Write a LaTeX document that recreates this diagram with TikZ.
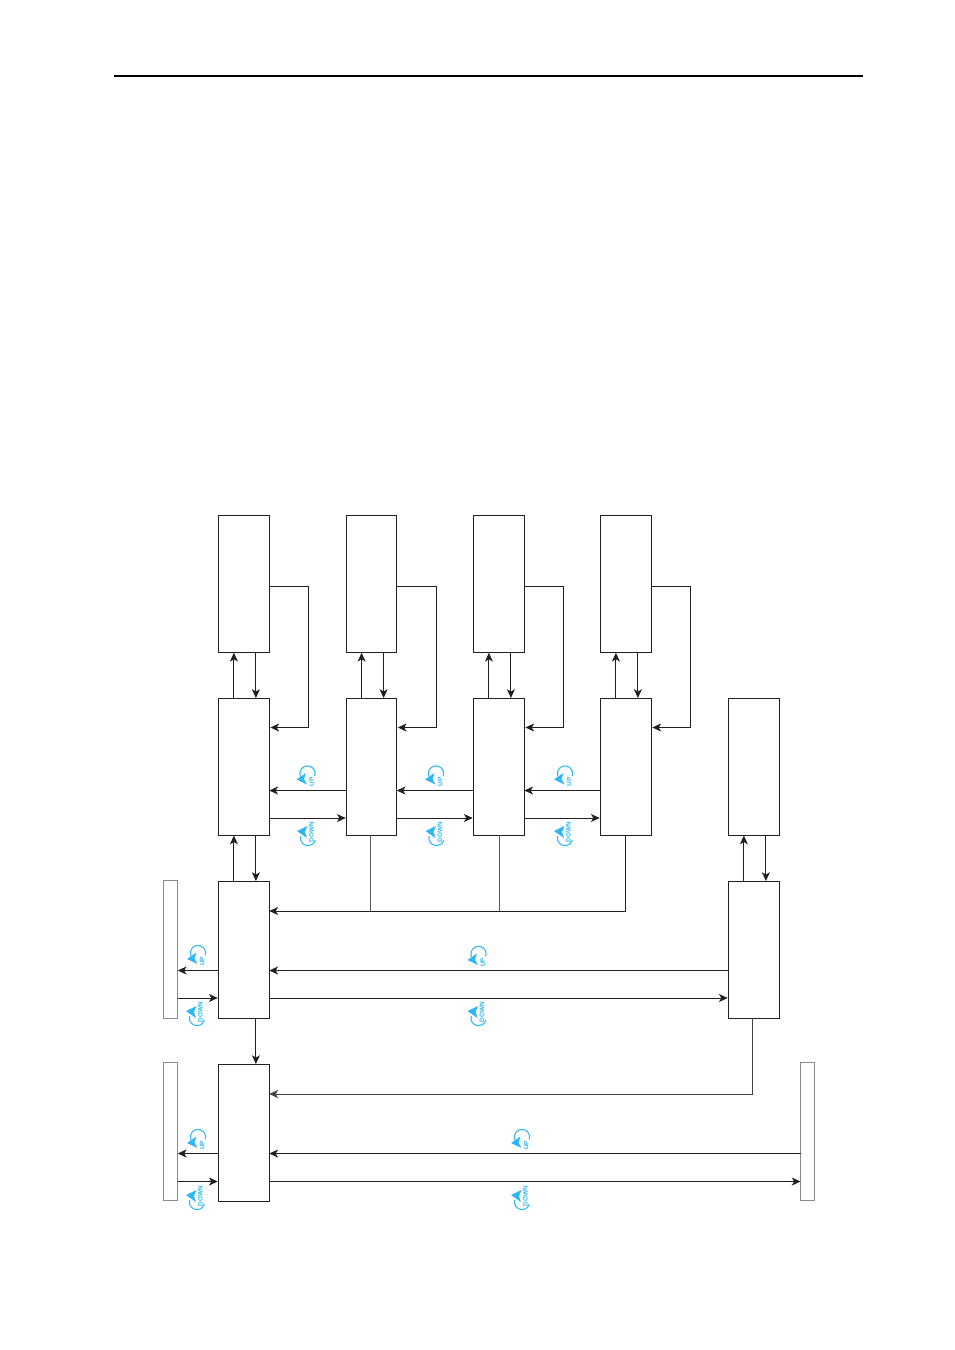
\documentclass[tikz,border=0pt]{standalone}
\usepackage{fontspec}
\setmainfont{Liberation Sans}
\usetikzlibrary{arrows.meta}
\definecolor{ink}{HTML}{231F20}
\definecolor{sky}{HTML}{2CB8F6}
\definecolor{barline}{HTML}{8A8A8A}
\tikzset{
  x=0.75pt,y=-0.75pt,
  box/.style={draw=ink,line width=0.7pt,fill=white,inner sep=0pt,outer sep=0pt,minimum width=38.25pt,minimum height=102.8pt},
  narrowbox/.style={box,minimum width=37.8pt},
  bar/.style={draw=barline,line width=0.7pt,fill=white,inner sep=0pt,outer sep=0pt,minimum width=10.5pt,minimum height=103.8pt},
  arr/.style={draw=ink,line width=0.7pt,-{Stealth[length=6.6pt,width=6pt,inset=1.8pt]},shorten >=0.2pt},
  bus/.style={draw=ink!75,line width=0.65pt},
  bussarr/.style={arr,draw=ink!85},
  symline/.style={draw=sky,line width=0.8pt},
  symhead/.style={fill=sky,draw=none},
  symtext/.style={text=sky,font=\bfseries\fontsize{4.8}{5}\selectfont,rotate=90,inner sep=0pt},
  upsym/.pic={
    \draw[symline] plot[domain=-18:205,samples=40] ({7.5*cos(\x)},{-7.5*sin(\x)});
    \fill[symhead] (-11,6) -- (-1.5,-0.5) -- (-3.5,5.5) -- (-0.5,11) -- cycle;
    \node[symtext] (-t) at (4.3,8.5) {UP};
  },
  downsym/.pic={
    \draw[symline] plot[domain=165:345,samples=40] ({7.5*cos(\x)},{-7.5*sin(\x)});
    \fill[symhead] (-11,-7) -- (-0.5,-12) -- (-3,-6) -- (-1,0) -- cycle;
    \node[symtext] (-t) at (3.5,-6) {DOWN};
  },
}
\begin{document}
\begin{tikzpicture}
\useasboundingbox (0,0) rectangle (954,1350);
\fill[white] (0,0) rectangle (954,1350);
% header rule
\coordinate (ruleL) at (114,75.5);
\coordinate (ruleR) at (862.5,75.5);
\draw[draw=black,line width=1.5pt] (ruleL) -- (ruleR);
% rows
\coordinate (rFa) at (0,586);
\coordinate (rFb) at (0,727.5);
\coordinate (rMu) at (0,790.5);
\coordinate (rMd) at (0,818);
\coordinate (rBus) at (0,911);
\coordinate (rLu) at (0,970.5);
\coordinate (rLd) at (0,998);
\coordinate (rBt) at (0,1094);
\coordinate (rBu) at (0,1153.5);
\coordinate (rBd) at (0,1181.5);
% boxes
\node[box] (T1) at (243.5,584) {};
\node[narrowbox] (T2) at (371.2,584) {};
\node[box] (T3) at (498.5,584) {};
\node[box] (T4) at (625.5,584) {};
\node[box] (M1) at (243.5,766.8) {};
\node[narrowbox] (M2) at (371.2,766.8) {};
\node[box] (M3) at (498.5,766.8) {};
\node[box] (M4) at (625.5,766.8) {};
\node[box] (M5) at (753.5,766.8) {};
\node[box] (L1) at (243.5,949.8) {};
\node[box] (L5) at (753.5,949.8) {};
\node[box] (B1) at (243.5,1132.8) {};
\node[bar] (S1) at (170.5,949.7) {};
\node[bar] (S2) at (170.5,1131.3) {};
\node[bar] (S3) at (807.8,1131.3) {};
% vertical pairs
\foreach \a/\b in {M1/T1,M2/T2,M3/T3,M4/T4,L1/M1,L5/M5}{
  \draw[arr] ([xshift=-7.2pt]\a.north) -- ([xshift=-7.2pt]\b.south);
  \draw[arr] ([xshift=9.3pt]\b.south) -- ([xshift=9.3pt]\a.north);
}
\draw[arr] ([xshift=9.3pt]L1.south) -- ([xshift=9.3pt]B1.north);
% feedback loops
\foreach \a/\b/\w in {T1/M1/39,T2/M2/40,T3/M3/39,T4/M4/39}{
  \draw[arr,shorten >=1pt] (\a.east |- rFa) -- ++(\w,0) |- (\b.east |- rFb);
}
% horizontal pairs
\foreach \a/\b in {M1/M2,M2/M3,M3/M4}{
  \draw[arr] (\b.west |- rMu) -- (\a.east |- rMu);
  \draw[arr] (\a.east |- rMd) -- (\b.west |- rMd);
}
\draw[arr] (L5.west |- rLu) -- (L1.east |- rLu);
\draw[arr] (L1.east |- rLd) -- (L5.west |- rLd);
\draw[arr] (L1.west |- rLu) -- (S1.east |- rLu);
\draw[arr] (S1.east |- rLd) -- (L1.west |- rLd);
\draw[arr] (B1.west |- rBu) -- (S2.east |- rBu);
\draw[arr] (S2.east |- rBd) -- (B1.west |- rBd);
\draw[arr] (S3.west |- rBu) -- (B1.east |- rBu);
\draw[arr] (B1.east |- rBd) -- (S3.west |- rBd);
% collector bus
\draw[bus] ([xshift=-0.8pt]M2.south) -- ([xshift=-0.8pt]M2.south |- rBus);
\draw[bus] ([xshift=0.4pt]M3.south) -- ([xshift=0.4pt]M3.south |- rBus);
\draw[arr] (M4.south) |- (L1.east |- rBus);
\draw[bussarr] ([xshift=-1pt]L5.south) |- (B1.east |- rBt);
% turn symbols
\pic (u1) at (307.5,773.5) {upsym};
\pic (u2) at (436,773.5) {upsym};
\pic (u3) at (565,773.5) {upsym};
\pic (u4) at (198,953) {upsym};
\pic (u5) at (478.5,954) {upsym};
\pic (u6) at (198,1137) {upsym};
\pic (u7) at (522,1137) {upsym};
\pic (d1) at (308,838) {downsym};
\pic (d2) at (436.5,838) {downsym};
\pic (d3) at (565,838) {downsym};
\pic (d4) at (197,1018) {downsym};
\pic (d5) at (478.5,1018) {downsym};
\pic (d6) at (197,1202) {downsym};
\pic (d7) at (522,1202) {downsym};
\end{tikzpicture}
\end{document}
